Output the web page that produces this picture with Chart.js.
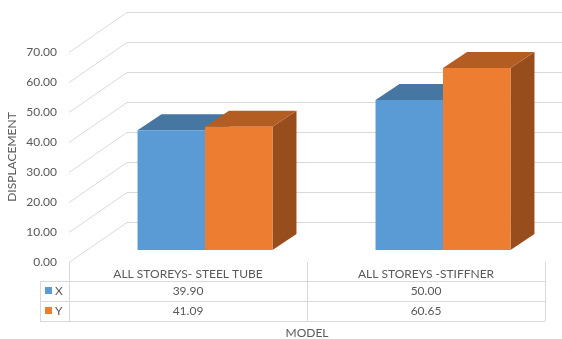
<!DOCTYPE html>
<html>
<head>
<meta charset="utf-8">
<script src="https://cdn.jsdelivr.net/npm/chart.js@4.4.1/dist/chart.umd.min.js"></script>
<style>
  html, body { margin: 0; padding: 0; background: #fff; }
</style>
</head>
<body>
<canvas id="myChart" width="562" height="339"></canvas>
<script>
const categories = ['ALL STOREYS- STEEL TUBE', 'ALL STOREYS -STIFFNER'];
const seriesNames = ['X', 'Y'];
const xValues = [39.90, 50.00];
const yValues = [41.09, 60.65];
const yTicks = [0, 10, 20, 30, 40, 50, 60, 70];

const frontColors = ['#5B9BD5', '#ED7D31'];
const topColors = ['#4676A2', '#B45D22'];
const sideColors = ['#3E6A92', '#984E1C'];
const gridColor = '#D9D9D9';
const textColor = '#595959';
const fontFamily = 'Lato';

// fake 3D offsets, in pixels
const barDepth = { dx: 24, dy: -16 };  // bar front face -> bar back face
const toFront = { dx: -17, dy: 12 };   // bar plane -> front plane (axis labels, table)
const toBack = { dx: 41, dy: -28 };    // bar plane -> back wall

function fillPoly(ctx, pts) {
  ctx.beginPath();
  ctx.moveTo(pts[0][0], pts[0][1]);
  for (let i = 1; i < pts.length; i++) ctx.lineTo(pts[i][0], pts[i][1]);
  ctx.closePath();
  ctx.fill();
}

function hLine(ctx, x1, x2, y) {
  y = Math.round(y) + 0.5;
  ctx.beginPath(); ctx.moveTo(x1, y); ctx.lineTo(x2, y); ctx.stroke();
}

function vLine(ctx, x, y1, y2) {
  x = Math.round(x) + 0.5;
  ctx.beginPath(); ctx.moveTo(x, y1); ctx.lineTo(x, y2); ctx.stroke();
}

const depthPlugin = {
  id: 'depth',
  beforeDatasetsDraw(chart) {
    const ctx = chart.ctx;
    const area = chart.chartArea;
    const ys = chart.scales.y;
    ctx.save();

    // floor side lines + back wall grid
    ctx.strokeStyle = gridColor;
    ctx.lineWidth = 1;
    yTicks.forEach(v => {
      const y = Math.round(ys.getPixelForValue(v)) + 0.5;
      ctx.beginPath();
      ctx.moveTo(area.left + toFront.dx, y + toFront.dy);
      ctx.lineTo(area.left + toBack.dx, y + toBack.dy);
      ctx.lineTo(chart.width, y + toBack.dy);
      ctx.stroke();
    });

    // sides and tops of the bars, the fronts are drawn by chart.js on top
    chart.data.datasets.forEach((ds, i) => {
      chart.getDatasetMeta(i).data.forEach(bar => {
        const l = bar.x - bar.width / 2;
        const r = bar.x + bar.width / 2;
        const dx = barDepth.dx, dy = barDepth.dy;
        ctx.fillStyle = sideColors[i];
        fillPoly(ctx, [[r, bar.y], [r + dx, bar.y + dy], [r + dx, bar.base + dy], [r, bar.base]]);
        ctx.fillStyle = topColors[i];
        fillPoly(ctx, [[l, bar.y], [r, bar.y], [r + dx, bar.y + dy], [l + dx, bar.y + dy]]);
      });
    });
    ctx.restore();
  },
  afterDraw(chart) {
    const ctx = chart.ctx;
    const xs = chart.scales.x;
    const ys = chart.scales.y;
    const rows = [xValues, yValues];

    const step = xs.getPixelForValue(1) - xs.getPixelForValue(0);
    const left = xs.getPixelForValue(0) - step / 2 + toFront.dx;
    const right = left + step * categories.length;
    const top = ys.getPixelForValue(0) + toFront.dy;
    const headBottom = top + 19;
    const rowH = 20;
    const bottom = headBottom + rowH * rows.length;
    const keyLeft = 40;

    ctx.save();
    ctx.strokeStyle = gridColor;
    ctx.lineWidth = 1;
    for (let r = 0; r <= rows.length; r++) hLine(ctx, keyLeft, right, headBottom + r * rowH);
    vLine(ctx, keyLeft, headBottom, bottom);
    for (let c = 0; c <= categories.length; c++) vLine(ctx, left + c * step, top, bottom);

    ctx.fillStyle = textColor;
    ctx.font = '12px ' + fontFamily;
    ctx.textAlign = 'center';
    ctx.textBaseline = 'middle';
    categories.forEach((cat, c) => {
      const cx = left + (c + 0.5) * step;
      ctx.fillText(cat, cx, top + 12);
      rows.forEach((vals, r) => {
        ctx.fillText(vals[c].toFixed(2), cx, headBottom + r * rowH + rowH / 2);
      });
    });

    // legend keys inside the table
    rows.forEach((vals, r) => {
      const cy = headBottom + r * rowH + rowH / 2;
      ctx.fillStyle = frontColors[r];
      ctx.fillRect(keyLeft + 5, cy - 4, 7, 7);
      ctx.fillStyle = textColor;
      ctx.textAlign = 'left';
      ctx.fillText(seriesNames[r], keyLeft + 15, cy);
    });

    // axis titles
    ctx.textAlign = 'center';
    ctx.fillText('MODEL', (left + right) / 2, bottom + 12);
    ctx.translate(12, (ys.getPixelForValue(0) + ys.getPixelForValue(70)) / 2 + toFront.dy);
    ctx.rotate(-Math.PI / 2);
    ctx.fillText('DISPLACEMENT', 0, 0);
    ctx.restore();
  }
};

Chart.defaults.font.family = fontFamily;
Chart.defaults.color = textColor;

new Chart(document.getElementById('myChart'), {
  type: 'bar',
  data: {
    labels: categories,
    datasets: [{
      label: seriesNames[0],
      data: xValues,
      backgroundColor: frontColors[0],
      borderWidth: 0
    }, {
      label: seriesNames[1],
      data: yValues,
      backgroundColor: frontColors[1],
      borderWidth: 0
    }]
  },
  options: {
    responsive: false,
    animation: false,
    layout: { padding: { top: 40, bottom: 89, left: 0, right: 0 } },
    datasets: { bar: { categoryPercentage: 0.567, barPercentage: 1 } },
    plugins: { legend: { display: false }, tooltip: { enabled: false } },
    scales: {
      x: { display: false },
      y: {
        min: 0,
        max: 70,
        afterFit: s => { s.width = 86; },
        afterBuildTicks: s => { s.ticks = yTicks.map(v => ({ value: v })); },
        ticks: {
          padding: 29,
          labelOffset: 12,
          font: { size: 12 },
          color: textColor,
          callback: v => Number(v).toFixed(2)
        },
        grid: { display: false, drawTicks: false },
        border: { display: false }
      }
    }
  },
  plugins: [depthPlugin]
});
</script>
</body>
</html>
